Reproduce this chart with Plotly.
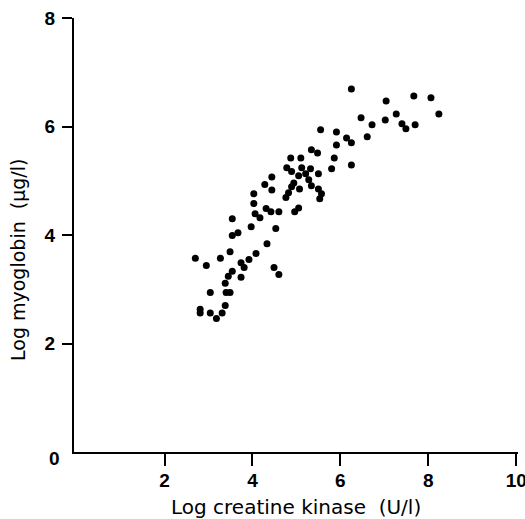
import plotly.graph_objects as go

# Log creatine kinase (U/l)
log_ck = [2.70, 2.95, 3.27, 3.49, 4.08, 4.49, 4.60, 3.74, 3.81, 3.92,
          3.74, 3.54, 3.45, 3.38, 3.04, 3.40, 3.49, 3.38, 2.81, 2.81,
          3.04, 3.18, 3.31, 3.54, 3.67, 3.97, 3.54, 4.53, 4.33, 4.06,
          4.17, 4.31, 4.42, 4.60, 4.03, 4.03, 4.28, 4.44, 4.44, 4.96,
          5.05, 4.76, 4.82, 4.87, 5.10, 5.34, 5.48, 5.91, 5.86, 5.80,
          6.25, 6.25, 6.14, 5.91, 5.55, 6.25, 6.47, 6.72, 6.61, 7.02,
          7.04, 7.27, 7.40, 7.49, 7.70, 7.67, 8.06, 8.24, 4.78, 4.89,
          5.12, 5.32, 5.05, 5.21, 5.28, 4.94, 4.89, 5.07, 5.34, 5.50,
          5.57, 5.53, 5.50]
# Log myoglobin (ug/l)
log_mb = [3.57, 3.44, 3.57, 3.69, 3.66, 3.40, 3.27, 3.49, 3.40, 3.55,
          3.22, 3.33, 3.24, 3.11, 2.94, 2.94, 2.94, 2.70, 2.63, 2.56,
          2.56, 2.46, 2.56, 3.99, 4.04, 4.15, 4.30, 4.12, 3.84, 4.39,
          4.32, 4.49, 4.43, 4.43, 4.58, 4.76, 4.93, 4.83, 5.07, 4.43,
          4.50, 4.69, 4.78, 5.42, 5.42, 5.57, 5.51, 5.66, 5.42, 5.22,
          5.29, 5.70, 5.79, 5.90, 5.94, 6.69, 6.16, 6.03, 5.81, 6.12,
          6.47, 6.23, 6.05, 5.96, 6.03, 6.56, 6.53, 6.23, 5.24, 5.17,
          5.24, 5.22, 5.09, 5.13, 5.02, 4.96, 4.89, 4.85, 4.91, 4.85,
          4.76, 4.67, 5.13]

x_ticks = [2, 4, 6, 8, 10]
y_ticks = [2, 4, 6, 8]
x_title = "Log creatine kinase  (U/l)"
y_title = "Log myoglobin  (µg/l)"

TICKFONT = "Liberation Sans, Arial, sans-serif"
TITLEFONT = "DejaVu Sans, sans-serif"

fig = go.Figure(go.Scatter(
    x=log_ck, y=log_mb, mode="markers",
    marker=dict(color="black", size=7, line=dict(width=0)),
    showlegend=False, cliponaxis=False,
))

fig.update_layout(
    width=525, height=519,
    margin=dict(l=74, r=7, t=18, b=67, autoexpand=False),
    paper_bgcolor="white", plot_bgcolor="white",
    font=dict(family=TICKFONT, color="black"),
)
fig.update_xaxes(
    range=[-0.06, 10.04], tickvals=x_ticks, ticktext=[str(v) for v in x_ticks],
    showgrid=False, zeroline=False, showline=True, linecolor="black", linewidth=2,
    ticks="outside", ticklen=12, tickwidth=2, tickcolor="black",
    tickfont=dict(size=19, family=TICKFONT, weight="bold"), ticklabelstandoff=-2,
    ticklabeloverflow="allow", automargin=False,
)
fig.update_yaxes(
    range=[0, 8], tickvals=y_ticks, ticktext=[str(v) for v in y_ticks],
    showgrid=False, zeroline=False, showline=True, linecolor="black", linewidth=2,
    ticks="outside", ticklen=10, tickwidth=2, tickcolor="black",
    tickfont=dict(size=19, family=TICKFONT, weight="bold"), ticklabelstandoff=3,
    ticklabeloverflow="allow", automargin=False,
)
fig.add_annotation(
    x=0, xref="paper", xshift=-20, y=0, yref="y", yshift=-6,
    xanchor="center", yanchor="middle",
    text="0", showarrow=False, font=dict(size=19, family=TICKFONT, weight="bold"),
)
fig.add_annotation(
    x=0.5, xref="paper", y=0, yref="paper", yshift=-55,
    xanchor="center", yanchor="middle",
    text=x_title, showarrow=False, font=dict(size=20, family=TITLEFONT),
)
fig.add_annotation(
    x=0, xref="paper", xshift=-56, y=0.5, yref="paper", yshift=-25,
    xanchor="center", yanchor="middle",
    text=y_title, textangle=-90, showarrow=False, font=dict(size=19, family=TITLEFONT),
)

# remove the default page margin and scrollbars so the figure fills the window
fig.write_html(
    "out.html",
    config={"displayModeBar": False},
    post_script="document.body.style.margin='0';"
                "document.body.style.overflow='hidden';"
                "document.documentElement.style.overflow='hidden';",
)
